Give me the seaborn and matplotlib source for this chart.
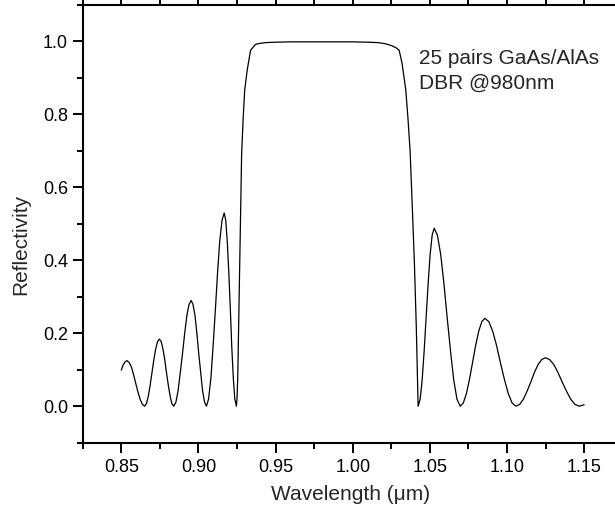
import matplotlib
matplotlib.use("Agg")
import matplotlib.pyplot as plt
import pandas as pd
import seaborn as sns
from matplotlib.ticker import MultipleLocator, FormatStrFormatter

# Wavelength (um) and reflectivity
wavelength = [
    0.8500, 0.8512, 0.8525, 0.8537, 0.8551, 0.8566, 0.8580, 0.8594, 0.8608, 0.8623, 0.8637, 0.8651,
    0.8663, 0.8675, 0.8687, 0.8699, 0.8711, 0.8723, 0.8735, 0.8747,
    0.8759, 0.8770, 0.8782, 0.8793, 0.8805, 0.8817, 0.8828, 0.8840,
    0.8854, 0.8868, 0.8882, 0.8897, 0.8911, 0.8925, 0.8939, 0.8953,
    0.8965, 0.8978, 0.8990, 0.9002, 0.9015, 0.9027, 0.9040, 0.9052,
    0.9066, 0.9081, 0.9095, 0.9110, 0.9124, 0.9138, 0.9153, 0.9167,
    0.9177, 0.9187, 0.9197, 0.9207, 0.9216, 0.9226, 0.9236, 0.9246,
    0.9250, 0.9255, 0.9262, 0.9270, 0.9280, 0.9290, 0.9300, 0.9316, 0.9338, 0.9370, 0.9400, 0.9440,
    0.9500, 0.9600, 0.9800, 1.0000, 1.0100, 1.0160, 1.0210, 1.0250, 1.0280, 1.0301, 1.0320, 1.0344,
    1.0358, 1.0372, 1.0385, 1.0400, 1.0412, 1.0420, 1.0424,
    1.0437, 1.0450, 1.0463, 1.0476, 1.0489, 1.0502, 1.0515, 1.0528,
    1.0549, 1.0570, 1.0591, 1.0612, 1.0634, 1.0655, 1.0676, 1.0697,
    1.0717, 1.0737, 1.0757, 1.0777, 1.0797, 1.0817, 1.0837, 1.0857,
    1.0882, 1.0907, 1.0932, 1.0957, 1.0983, 1.1008, 1.1033, 1.1058,
    1.1082, 1.1106, 1.1130, 1.1154, 1.1177, 1.1201, 1.1225, 1.1249,
    1.1276, 1.1304, 1.1331, 1.1358, 1.1386, 1.1413, 1.1441, 1.1468, 1.1500,
]
reflectivity = [
    0.099, 0.113, 0.122, 0.125, 0.120, 0.107, 0.086, 0.062, 0.039, 0.018, 0.005, 0.000,
    0.007, 0.027, 0.057, 0.092, 0.127, 0.157, 0.177, 0.184,
    0.177, 0.157, 0.127, 0.092, 0.057, 0.027, 0.007, 0.000,
    0.011, 0.042, 0.090, 0.145, 0.200, 0.248, 0.279, 0.290,
    0.279, 0.248, 0.200, 0.145, 0.090, 0.042, 0.011, 0.000,
    0.020, 0.078, 0.164, 0.265, 0.366, 0.452, 0.510, 0.530,
    0.510, 0.452, 0.366, 0.265, 0.164, 0.078, 0.020, 0.000,
    0.020, 0.080, 0.250, 0.460, 0.690, 0.790, 0.867, 0.921, 0.976, 0.992, 0.995, 0.997,
    0.998, 0.999, 0.999, 0.999, 0.998, 0.997, 0.994, 0.989, 0.983, 0.976, 0.940, 0.867,
    0.790, 0.700, 0.560, 0.390, 0.220, 0.080, 0.000,
    0.019, 0.071, 0.151, 0.244, 0.337, 0.417, 0.469, 0.488,
    0.469, 0.417, 0.337, 0.244, 0.151, 0.071, 0.019, 0.000,
    0.009, 0.035, 0.074, 0.120, 0.167, 0.206, 0.232, 0.241,
    0.232, 0.206, 0.167, 0.120, 0.074, 0.035, 0.009, 0.000,
    0.005, 0.019, 0.041, 0.066, 0.092, 0.114, 0.128, 0.133,
    0.128, 0.114, 0.092, 0.066, 0.041, 0.019, 0.005, 0.000, 0.004,
]
x_label = "Wavelength (\u03bcm)"
y_label = "Reflectivity"
note_lines = ["25 pairs GaAs/AlAs", "DBR @980nm"]

df = pd.DataFrame({"wavelength": wavelength, "reflectivity": reflectivity})

sns.set_theme(style="ticks")
plt.rcParams['font.family'] = ['Liberation Sans', 'DejaVu Sans']

W, H = 615, 517
fig = plt.figure(figsize=(W / 100, H / 100), dpi=100)
left, right, top, bottom = 82.7, 615.0, 5.0, 442.7
aw, ah = right - left, bottom - top
ax = fig.add_axes([left / W, 1 - bottom / H, aw / W, ah / H])

sns.lineplot(data=df, x="wavelength", y="reflectivity", ax=ax, color="black",
             linewidth=0.9, sort=False, estimator=None)

ax.set_xlim(0.825, 1.17)
ax.set_ylim(-0.1, 1.1)
ax.xaxis.set_major_locator(MultipleLocator(0.05))
ax.xaxis.set_minor_locator(MultipleLocator(0.025))
ax.xaxis.set_major_formatter(FormatStrFormatter("%.2f"))
ax.yaxis.set_major_locator(MultipleLocator(0.2))
ax.yaxis.set_minor_locator(MultipleLocator(0.1))
ax.yaxis.set_major_formatter(FormatStrFormatter("%.1f"))

for s in ["left", "bottom", "top"]:
    ax.spines[s].set_linewidth(1.5)
    ax.spines[s].set_color("black")
ax.spines["right"].set_visible(False)

ax.tick_params(which="major", direction="out", length=7, width=1.4, colors="black",
               labelsize=13, top=True, labeltop=False, right=False)
ax.tick_params(which="minor", direction="out", length=4, width=1.4, colors="black",
               top=True, right=False)
ax.tick_params(axis="x", which="major", pad=4.5)
ax.tick_params(axis="y", which="major", pad=3.5)

ax.set_xlabel(x_label, fontsize=15)
ax.set_ylabel(y_label, fontsize=15)
ax.xaxis.set_label_coords((351 - left) / aw, (bottom - 485) / ah)
ax.yaxis.set_label_coords((30 - left) / aw, (bottom - 244) / ah)

fig.text(419 / W, 1 - 64.3 / H, note_lines[0], fontsize=15, va="baseline", ha="left")
fig.text(419 / W, 1 - 88.3 / H, note_lines[1], fontsize=15, va="baseline", ha="left")

fig.savefig("out.png", dpi=100)
